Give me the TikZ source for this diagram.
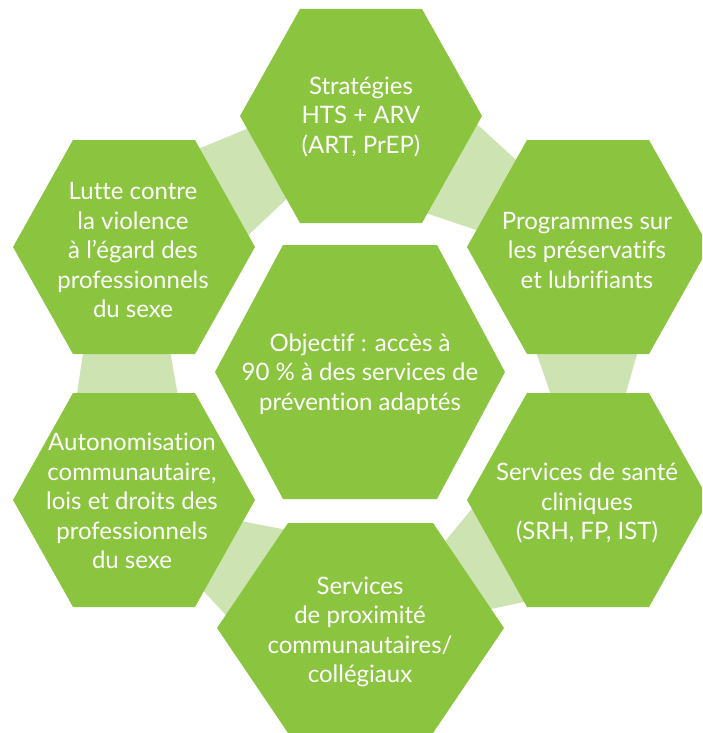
\documentclass[tikz,border=0pt]{standalone}
\usepackage{fontspec}
\setmainfont{Lato}[Ligatures=NoCommon]
\definecolor{hexg}{HTML}{8BC53F}
\definecolor{bandg}{HTML}{CEE3B2}
\tikzset{
  hexfill/.style={fill=hexg, draw=none},
  bandfill/.style={fill=bandg, draw=none},
  lbl/.style={text=white, align=center, font=\fontsize{24}{29.5}\selectfont, inner sep=0pt},
}
\newcommand{\hexshape}[5]{%
  \fill[hexfill] ({#1-#3},{#2}) -- ({#1-#4},{#2-#5}) -- ({#1+#4},{#2-#5}) -- ({#1+#3},{#2}) -- ({#1+#4},{#2+#5}) -- ({#1-#4},{#2+#5}) -- cycle;}
\begin{document}
\begin{tikzpicture}[x=1pt,y=-1pt]
\useasboundingbox (0,0) rectangle (702,733);
\clip (0,0) rectangle (702,733);
% light bands
\fill[bandfill] (186,154) -- (261,123) -- (297,189) -- (238,245) -- cycle;
\fill[bandfill] (467,115) -- (527,170) -- (491,235) -- (414,209) -- cycle;
\fill[bandfill] (532,340) -- (641,340) -- (622,407) -- (555,407) -- cycle;
\fill[bandfill] (480,499) -- (538,599) -- (477,612) -- (437,551) -- cycle;
\fill[bandfill] (298,532) -- (236,626) -- (195,582) -- (230,519) -- cycle;
\fill[bandfill] (75,407) -- (85,340) -- (168,340) -- (180,407) -- cycle;
% hexagons
\hexshape{361}{116}{121}{61}{107}
\hexshape{134}{247}{121}{61}{107}
\hexshape{588}{247}{121}{61}{107}
\hexshape{134}{500}{121}{61}{107}
\hexshape{588}{500}{121}{61}{107}
\hexshape{360}{372}{145}{77}{127}
\hexshape{360.5}{628}{143.5}{72.5}{105}
% labels
\node[lbl] (top) at (361,117) {Stratégies\\HTS + ARV\\(ART, PrEP)};
\node[lbl] (ul) at (133,250) {Lutte contre\\la violence\\à l’égard des\\professionnels\\du sexe};
\node[lbl] (ur) at (587,250) {Programmes sur\\les préservatifs\\et lubrifiants};
\node[lbl] (ctr) at (360,374) {Objectif : accès à\\90 \% à des services de\\prévention adaptés};
\node[lbl] (ll) at (132,501) {Autonomisation\\communautaire,\\lois et droits des\\professionnels\\du sexe};
\node[lbl] (lr) at (587,503) {Services de santé\\cliniques\\(SRH, FP, IST)};
\node[lbl] (bot) at (360,632) {Services\\de proximité\\communautaires/\\collégiaux};
\end{tikzpicture}
\end{document}
